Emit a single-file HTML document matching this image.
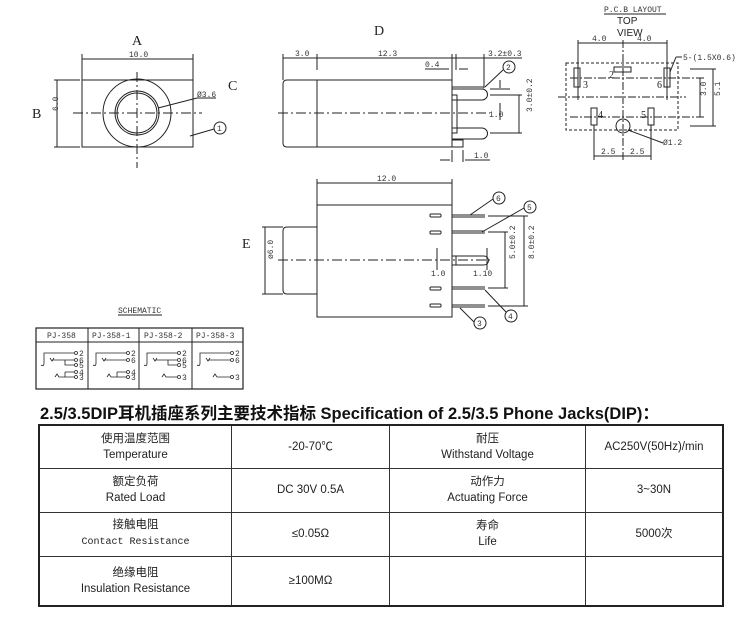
<!DOCTYPE html>
<html><head><meta charset="utf-8"><style>
html,body{margin:0;padding:0;background:#fff;width:754px;height:618px;overflow:hidden}
svg{position:absolute;left:0;top:0}
.t{font-family:"Liberation Serif","Noto Serif CJK SC",serif;fill:#222}
.m{font-family:"Liberation Mono",monospace;fill:#333;font-size:8px}
table{position:absolute;left:38px;top:424px;border-collapse:collapse;font-family:"Liberation Sans","Noto Sans CJK SC",sans-serif;font-size:11.5px;color:#222}
td{border:1px solid #333;text-align:center;vertical-align:middle;line-height:16px;padding:0}
.title{position:absolute;left:40px;top:400px;font-family:"Liberation Sans","Noto Sans CJK SC",sans-serif;font-weight:bold;font-size:16.5px;color:#111;white-space:nowrap}
</style></head><body>
<svg width="754" height="618" viewBox="0 0 754 618" stroke="#222" fill="none" stroke-width="1">
<!-- View A -->
<text class="t" x="132" y="45" font-size="14" stroke="none">A</text>
<line x1="82" y1="59" x2="193" y2="59"/><line x1="82" y1="54" x2="82" y2="80"/><line x1="193" y1="54" x2="193" y2="80"/>
<text class="m" x="129" y="57" stroke="none">10.0</text>
<rect x="82" y="80" width="111" height="67"/>
<circle cx="137" cy="113" r="34"/><circle cx="137" cy="113" r="22"/><circle cx="137" cy="113" r="20"/>
<line x1="73" y1="113" x2="202" y2="113" stroke-dasharray="10,3,2,3"/>
<line x1="137" y1="72" x2="137" y2="168" stroke-dasharray="10,3,2,3"/>
<text class="t" x="32" y="118" font-size="14" stroke="none">B</text>
<line x1="57" y1="80" x2="57" y2="147"/><line x1="54" y1="80" x2="80" y2="80"/><line x1="54" y1="147" x2="80" y2="147"/>
<text class="m" x="60" y="113" transform="rotate(-90 58 113)" stroke="none">6.0</text>
<text class="t" x="228" y="90" font-size="14" stroke="none">C</text>
<text class="m" x="197" y="97" stroke="none">Ø3.6</text>
<line x1="158" y1="108" x2="197" y2="98"/><line x1="197" y1="98" x2="216" y2="98"/>
<circle cx="220" cy="128" r="6"/><text class="m" x="217" y="131" stroke="none">1</text>
<line x1="190" y1="136" x2="214" y2="129"/>
<!-- View D -->
<text class="t" x="374" y="35" font-size="14" stroke="none">D</text>
<path d="M287 80 H452 V147 H287 Q283 147 283 143 V84 Q283 80 287 80 Z"/>
<line x1="317" y1="80" x2="317" y2="147"/>
<line x1="283" y1="58" x2="522" y2="58"/>
<line x1="283" y1="54" x2="283" y2="80"/><line x1="317" y1="54" x2="317" y2="70"/><line x1="452" y1="54" x2="452" y2="80"/><line x1="456" y1="54" x2="456" y2="70"/><line x1="484" y1="54" x2="484" y2="88"/>
<text class="m" x="295" y="56" stroke="none">3.0</text><text class="m" x="378" y="56" stroke="none">12.3</text><text class="m" x="488" y="56" stroke="none">3.2±0.3</text>
<text class="m" x="425" y="67" stroke="none">0.4</text><line x1="425" y1="69" x2="449" y2="69"/><line x1="459" y1="69" x2="468" y2="69"/>
<rect x="452" y="95" width="5" height="38"/><rect x="452" y="140" width="11" height="7"/>
<line x1="452" y1="87" x2="484" y2="87"/><line x1="452" y1="89" x2="484" y2="89"/>
<path d="M452 89 H482 A5 5 0 0 1 482 100 H452"/><path d="M452 128 H482 A5 5 0 0 1 482 139 H452"/>
<line x1="278" y1="113" x2="490" y2="113" stroke-dasharray="10,3,2,3"/>
<circle cx="509" cy="67" r="6"/><text class="m" x="506" y="70" stroke="none">2</text>
<line x1="485" y1="87" x2="503" y2="70"/>
<line x1="490" y1="89" x2="510" y2="89"/><line x1="500" y1="80" x2="500" y2="88"/>
<line x1="490" y1="95" x2="522" y2="95"/><line x1="490" y1="133" x2="522" y2="133"/><line x1="519" y1="95" x2="519" y2="133"/>
<text class="m" x="524" y="124" transform="rotate(-90 522 114)" stroke="none">3.0±0.2</text>
<text class="m" x="489" y="117" stroke="none">1.0</text><line x1="500" y1="103" x2="500" y2="120"/>
<line x1="452" y1="150" x2="452" y2="162"/><line x1="463" y1="150" x2="463" y2="162"/>
<line x1="440" y1="160" x2="450" y2="160"/><line x1="465" y1="160" x2="490" y2="160"/>
<text class="m" x="474" y="158" stroke="none">1.0</text>
<!-- PCB -->
<text class="m" x="604" y="12" stroke="none">P.C.B LAYOUT</text><line x1="604" y1="14" x2="666" y2="14"/>
<text x="617" y="24" font-family="Liberation Sans" font-size="10" fill="#222" stroke="none">TOP</text>
<text x="617" y="36" font-family="Liberation Sans" font-size="10" fill="#222" stroke="none">VIEW</text>
<line x1="578" y1="43" x2="667" y2="43"/><line x1="578" y1="40" x2="578" y2="100"/><line x1="667" y1="40" x2="667" y2="100"/>
<text class="m" x="592" y="41" stroke="none">4.0</text><text class="m" x="637" y="41" stroke="none">4.0</text>
<rect x="566" y="63" width="112" height="67" stroke-dasharray="3,2"/>
<line x1="623" y1="40" x2="623" y2="160" stroke-dasharray="8,2,2,2"/>
<line x1="558" y1="97" x2="686" y2="97" stroke-dasharray="8,2,2,2"/>
<line x1="570" y1="78" x2="705" y2="78" stroke-dasharray="8,2,2,2"/>
<line x1="570" y1="117" x2="705" y2="117" stroke-dasharray="8,2,2,2"/>
<rect x="574" y="68" width="6" height="19"/><rect x="664" y="68" width="6" height="19"/>
<rect x="614" y="67" width="17" height="5"/>
<rect x="591" y="108" width="6" height="17"/><rect x="648" y="108" width="6" height="17"/>
<circle cx="623" cy="126" r="7"/>
<text class="t" x="583" y="88" font-size="10" stroke="none">3</text><text class="t" x="657" y="88" font-size="10" stroke="none">6</text>
<text class="t" x="609" y="78" font-size="10" stroke="none">2</text><text class="t" x="598" y="118" font-size="10" stroke="none">4</text><text class="t" x="641" y="118" font-size="10" stroke="none">5</text>
<line x1="670" y1="72" x2="676" y2="57"/><line x1="676" y1="57" x2="682" y2="57"/>
<text class="m" x="683" y="60" stroke="none">5-(1.5X0.6)</text>
<line x1="690" y1="69" x2="716" y2="69"/><line x1="690" y1="126" x2="716" y2="126"/>
<line x1="700" y1="78" x2="700" y2="117"/><line x1="713" y1="69" x2="713" y2="126"/>
<text class="m" x="702" y="104" transform="rotate(-90 700 98)" stroke="none">3.0</text>
<text class="m" x="716" y="104" transform="rotate(-90 714 98)" stroke="none">5.1</text>
<line x1="628" y1="130" x2="663" y2="143"/><text class="m" x="663" y="145" stroke="none">Ø1.2</text>
<line x1="594" y1="125" x2="594" y2="160"/><line x1="651" y1="125" x2="651" y2="160"/>
<line x1="594" y1="156" x2="651" y2="156"/>
<text class="m" x="601" y="154" stroke="none">2.5</text><text class="m" x="630" y="154" stroke="none">2.5</text>
<!-- View E -->
<text class="t" x="242" y="248" font-size="14" stroke="none">E</text>
<line x1="317" y1="183" x2="452" y2="183"/><line x1="317" y1="179" x2="317" y2="205"/><line x1="452" y1="179" x2="452" y2="205"/>
<text class="m" x="377" y="181" stroke="none">12.0</text>
<rect x="317" y="205" width="135" height="112"/>
<path d="M317 227 H287 Q283 227 283 231 V290 Q283 294 287 294 H317"/>
<line x1="262" y1="227" x2="283" y2="227"/><line x1="262" y1="294" x2="283" y2="294"/><line x1="265" y1="227" x2="265" y2="294"/>
<text class="m" x="268" y="268" transform="rotate(-90 266 261)" stroke="none">ø6.0</text>
<line x1="278" y1="260" x2="490" y2="260" stroke-dasharray="10,3,2,3"/>
<rect x="430" y="214" width="11" height="3" rx="1"/><rect x="430" y="231" width="11" height="3" rx="1"/>
<rect x="430" y="287" width="11" height="3" rx="1"/><rect x="430" y="304" width="11" height="3" rx="1"/>
<line x1="452" y1="215" x2="485" y2="215"/><line x1="452" y1="217" x2="485" y2="217"/>
<line x1="452" y1="231" x2="485" y2="231"/><line x1="452" y1="233" x2="485" y2="233"/>
<line x1="452" y1="287" x2="485" y2="287"/><line x1="452" y1="289" x2="485" y2="289"/>
<line x1="452" y1="305" x2="485" y2="305"/><line x1="452" y1="307" x2="485" y2="307"/>
<path d="M452 256 H484 A4 4 0 0 1 484 265 H452"/><line x1="456" y1="256" x2="456" y2="265"/>
<line x1="437" y1="248" x2="437" y2="270"/><line x1="487" y1="248" x2="487" y2="270"/>
<text class="m" x="431" y="276" stroke="none">1.0</text><text class="m" x="473" y="276" stroke="none">1.10</text>
<line x1="488" y1="216" x2="528" y2="216"/><line x1="488" y1="232" x2="508" y2="232"/>
<line x1="488" y1="288" x2="508" y2="288"/><line x1="488" y1="306" x2="528" y2="306"/>
<line x1="505" y1="232" x2="505" y2="288"/><line x1="524" y1="216" x2="524" y2="306"/>
<text class="m" x="507" y="271" transform="rotate(-90 505 261)" stroke="none">5.0±0.2</text>
<text class="m" x="526" y="271" transform="rotate(-90 524 261)" stroke="none">8.0±0.2</text>
<circle cx="499" cy="198" r="6"/><text class="m" x="496" y="201" stroke="none">6</text><line x1="470" y1="215" x2="493" y2="199"/>
<circle cx="530" cy="207" r="6"/><text class="m" x="527" y="210" stroke="none">5</text><line x1="482" y1="232" x2="524" y2="208"/>
<circle cx="511" cy="316" r="6"/><text class="m" x="508" y="319" stroke="none">4</text><line x1="485" y1="290" x2="506" y2="312"/>
<circle cx="480" cy="323" r="6"/><text class="m" x="477" y="326" stroke="none">3</text><line x1="460" y1="308" x2="474" y2="322"/>
<!-- Schematic -->
<text class="m" x="118" y="313" stroke="none">SCHEMATIC</text><line x1="118" y1="315" x2="162" y2="315"/>
<rect x="36" y="328" width="207" height="61" stroke-width="1.2"/>
<line x1="36" y1="342" x2="243" y2="342"/>
<line x1="88" y1="328" x2="88" y2="389"/><line x1="139" y1="328" x2="139" y2="389"/><line x1="192" y1="328" x2="192" y2="389"/>
<text class="m" x="47" y="338" stroke="none">PJ-358</text><text class="m" x="92" y="338" stroke="none">PJ-358-1</text>
<text class="m" x="144" y="338" stroke="none">PJ-358-2</text><text class="m" x="196" y="338" stroke="none">PJ-358-3</text>
<g stroke-width="0.8">
<path d="M41 365 Q44 367 44 363 V353 H74"/><circle cx="76" cy="353" r="1.5"/>
<path d="M50 358 L52 361 L54 358 M53 360 H74"/><circle cx="76" cy="360" r="1.5"/>
<path d="M65 360 V365 H74"/><circle cx="76" cy="365" r="1.5"/>
<path d="M65 372 H74 M65 372 V377"/><circle cx="76" cy="372" r="1.5"/>
<path d="M55 377 L57 374 L59 377 H74"/><circle cx="76" cy="377" r="1.5"/>
<path d="M93 365 Q96 367 96 363 V353 H126"/><circle cx="128" cy="353" r="1.5"/>
<path d="M102 358 L104 361 L106 358 M105 360 H126"/><circle cx="128" cy="360" r="1.5"/>
<path d="M117 372 H126 M117 372 V377"/><circle cx="128" cy="372" r="1.5"/>
<path d="M107 377 L109 374 L111 377 H126"/><circle cx="128" cy="377" r="1.5"/>
<path d="M144 365 Q147 367 147 363 V353 H177"/><circle cx="179" cy="353" r="1.5"/>
<path d="M153 358 L155 361 L157 358 M156 360 H177"/><circle cx="179" cy="360" r="1.5"/>
<path d="M168 360 V365 H177"/><circle cx="179" cy="365" r="1.5"/>
<path d="M162 377 L164 374 L166 377 H177"/><circle cx="179" cy="377" r="1.5"/>
<path d="M197 365 Q200 367 200 363 V353 H230"/><circle cx="232" cy="353" r="1.5"/>
<path d="M206 358 L208 361 L210 358 M209 360 H230"/><circle cx="232" cy="360" r="1.5"/>
<path d="M213 377 L215 374 L217 377 H230"/><circle cx="232" cy="377" r="1.5"/>
</g>
<g class="m" stroke="none" font-size="7">
<text x="79" y="356">2</text><text x="79" y="363">6</text><text x="79" y="368">5</text><text x="79" y="375">4</text><text x="79" y="380">3</text>
<text x="131" y="356">2</text><text x="131" y="363">6</text><text x="131" y="375">4</text><text x="131" y="380">3</text>
<text x="182" y="356">2</text><text x="182" y="363">6</text><text x="182" y="368">5</text><text x="182" y="380">3</text>
<text x="235" y="356">2</text><text x="235" y="363">6</text><text x="235" y="380">3</text>
</g>
</svg>
<div class="title">2.5/3.5DIP耳机插座系列主要技术指标 Specification of 2.5/3.5 Phone Jacks(DIP)：</div>
<table style="width:686px;border:2px solid #222">
<tr style="height:43px"><td style="width:191px">使用温度范围<br>Temperature</td><td style="width:157px">-20-70℃</td><td style="width:195px">耐压<br>Withstand Voltage</td><td>AC250V(50Hz)/min</td></tr>
<tr style="height:44px"><td>额定负荷<br>Rated Load</td><td>DC 30V 0.5A</td><td>动作力<br>Actuating Force</td><td>3~30N</td></tr>
<tr style="height:44px"><td>接触电阻<br><span style="font-family:'Liberation Mono',monospace;font-size:10px">Contact Resistance</span></td><td>≤0.05Ω</td><td>寿命<br>Life</td><td>5000次</td></tr>
<tr style="height:50px"><td>绝缘电阻<br>Insulation Resistance</td><td>≥100MΩ</td><td></td><td></td></tr>
</table>
</body></html>
